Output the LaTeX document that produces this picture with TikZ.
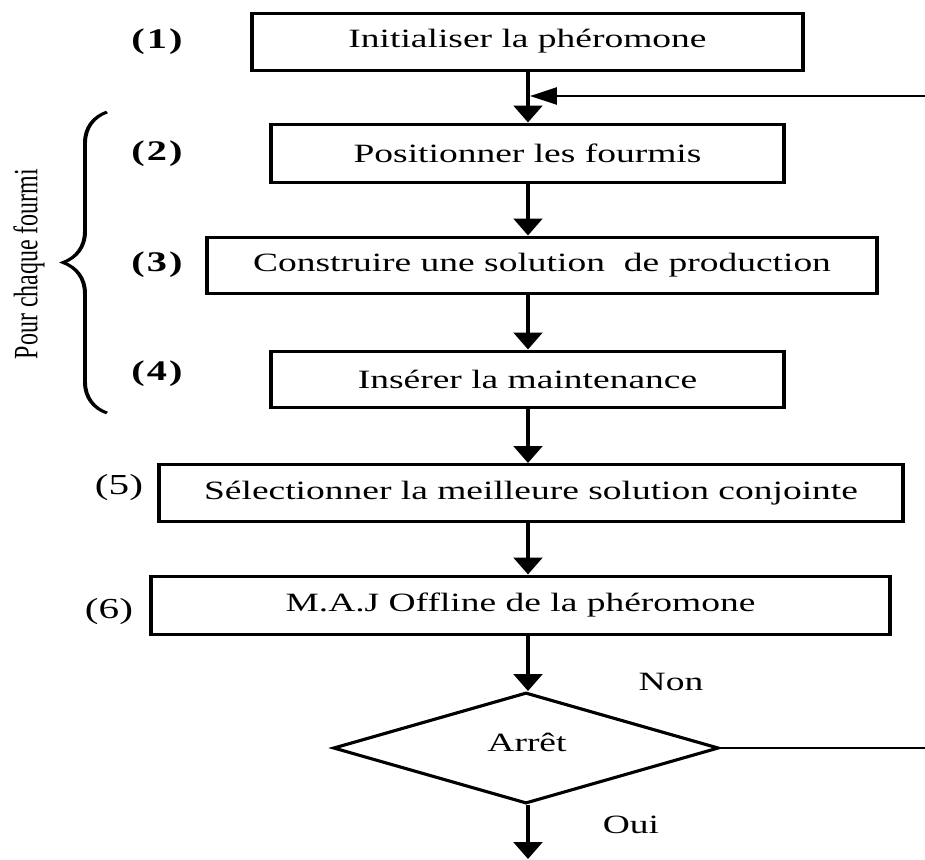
\documentclass[tikz,border=0pt]{standalone}
\usepackage{fontspec}
\setmainfont{Liberation Serif}
\usetikzlibrary{shapes.geometric,arrows.meta,decorations.pathreplacing}
\begin{document}
\begin{tikzpicture}[x=0.5pt,y=-0.5pt,
  txt/.style={font=\fontsize{13.2}{15}\selectfont},
  box/.style={draw, line width=1.5pt, inner sep=0pt, txt},
  lab/.style={font=\fontsize{14.2}{16}\selectfont\bfseries},
  labn/.style={font=\fontsize{14.5}{16}\selectfont},
  conn/.style={line width=1.5pt, -{Triangle[length=8.5pt,width=10pt]}},
  fb/.style={line width=1.3pt},
  dec/.style={draw, diamond, line width=1.5pt, minimum width=135.9pt, minimum height=55.5pt, inner sep=0pt}]
\useasboundingbox (0,0) rectangle (925,859);
\fill[white] (0,0) rectangle (925,859);
\begin{scope}[x=0.35211pt, transform canvas={xscale=1.42}]
\node[box, minimum width=194pt, minimum height=28.5pt] (b1) at (527.5,41.5) {Initialiser la phéromone};
\node[box, minimum width=180.6pt, minimum height=29pt] (b2) at (527.5,153) {Positionner les fourmis};
\node[box, minimum width=235.9pt, minimum height=28pt] (b3) at (542,265) {Construire une solution\ \ de production};
\node[box, minimum width=180.6pt, minimum height=28pt] (b4) at (527.5,379) {Insérer la maintenance};
\node[box, minimum width=262pt, minimum height=28.5pt] (b5) at (531,493) {Sélectionner la meilleure solution conjointe};
\node[box, minimum width=260.2pt, minimum height=29pt] (b6) at (520.5,605) {M.A.J Offline de la phéromone};
\node[dec] (d) at (526,748) {};
\node[txt] (dt) at (527,742) {Arrêt};
\node[lab] (l1) at (157,42) {(\kern0.05em1\kern0.05em)};
\node[lab] (l2) at (157,154) {(\kern0.05em2\kern0.05em)};
\node[lab] (l3) at (157,265) {(\kern0.05em3\kern0.05em)};
\node[lab] (l4) at (157,374) {(\kern0.05em4\kern0.05em)};
\node[labn] (l5) at (119,488) {(5)};
\node[labn] (l6) at (109,612) {(6)};
\node[txt] (non) at (671,682) {Non};
\node[txt] (oui) at (631,825) {Oui};
\node[rotate=90, font=\fontsize{12}{14}\selectfont] (pcf) at (29,264) {Pour chaque fourmi};
\coordinate (ax) at (528,0);
\coordinate (j) at (530,96);
\coordinate (r1) at (980,748);
\coordinate (r2) at (980,96);
\coordinate (end) at (528,859);
\coordinate (bt) at (107,413);
\coordinate (bb) at (107,112);
\draw[conn] (b1.south -| ax) -- (b2.north -| ax);
\draw[conn] (b2.south -| ax) -- (b3.north -| ax);
\draw[conn] (b3.south -| ax) -- (b4.north -| ax);
\draw[conn] (b4.south -| ax) -- (b5.north -| ax);
\draw[conn] (b5.south -| ax) -- (b6.north -| ax);
\draw[conn] (b6.south -| ax) -- (d.north -| ax);
\draw[conn] (d.south -| ax) -- (end);
\draw[fb, -{Triangle[length=9.5pt,width=8.5pt]}] (d.east) -- (r1) -- (r2) -- (j);
\draw[line width=1.4pt, decorate, decoration={brace, amplitude=15.5pt}] (bt) -- (bb);
\end{scope}
\end{tikzpicture}
\end{document}
